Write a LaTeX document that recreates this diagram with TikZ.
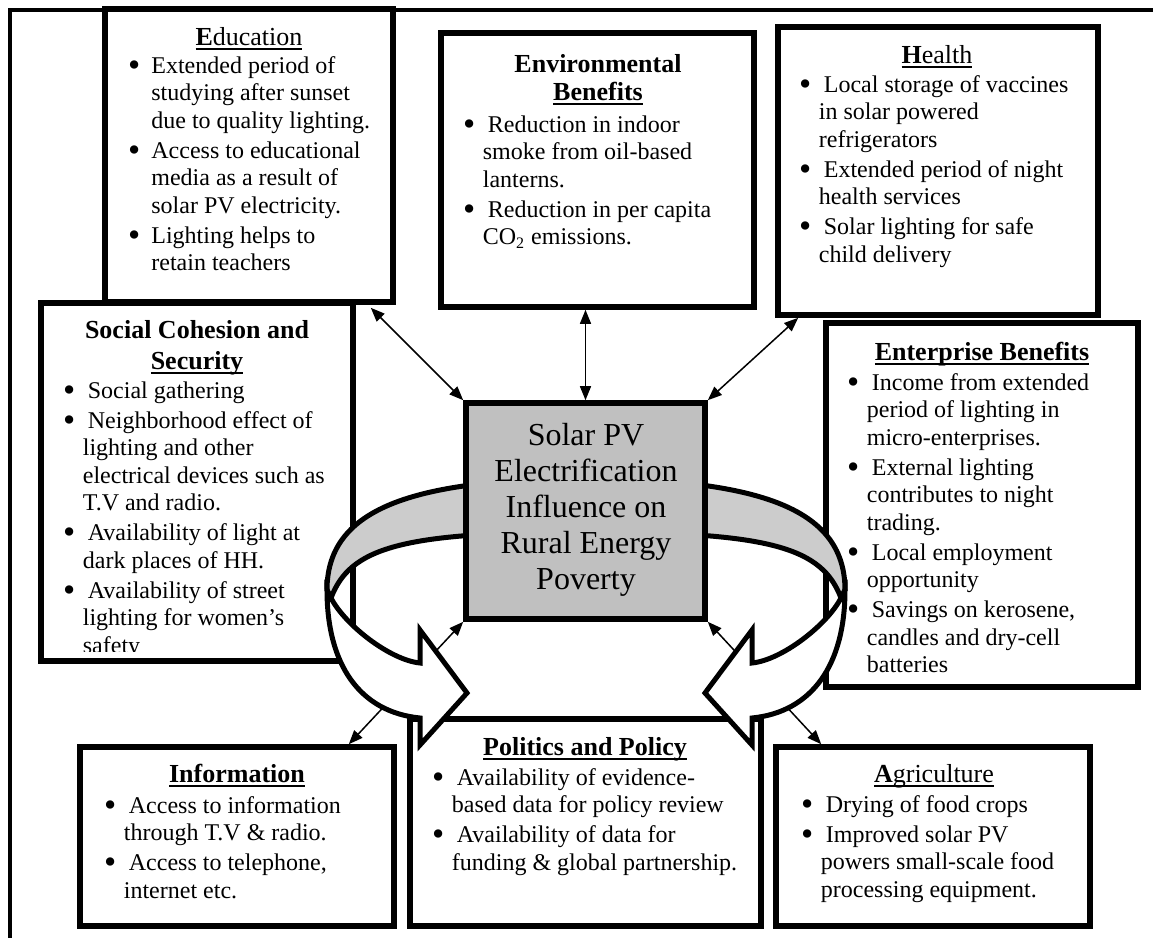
\documentclass[tikz,border=0pt]{standalone}
\usepackage{fontspec}
\usepackage{graphicx}
\setmainfont{Liberation Serif}
\usetikzlibrary{fit,arrows.meta}
\definecolor{coregray}{RGB}{192,192,192}
\definecolor{bandgray}{RGB}{204,204,204}
\newlength{\hg}\newlength{\fx}
\setlength{\hg}{9.25pt}\setlength{\fx}{2.5pt}
\newcommand{\wul}[1]{\leavevmode\setbox0\hbox{#1}\rlap{\rule[-2.4pt]{\wd0}{0.9pt}}\box0}
\newcommand{\bdot}{\raisebox{-1.6pt}[0pt][0pt]{\scalebox{1.45}{\textbullet}}}
\newcommand{\bit}[1]{\hangindent=\hg\hangafter=1\noindent\makebox[\hg][l]{\hspace{-0.6pt}\bdot}\hspace{\fx}#1\par\vskip1.25pt}
\newcommand{\blist}[1]{\parbox[t]{300pt}{\fontsize{12}{13.75}\selectfont\setlength{\parindent}{0pt}\setlength{\parskip}{0pt}#1}}
\newcommand{\ttl}{\fontsize{13}{15}\selectfont}
\begin{document}
\begin{tikzpicture}[x=0.5pt,y=-0.5pt,
  box/.style={draw, line width=2.8pt, fill=white, inner sep=0pt},
  conn/.style={line width=0.75pt, >={Triangle[length=7pt,width=5.5pt]}, <->},
  band/.style={draw, line width=2.5pt, line join=miter},
  ttlnode/.style={anchor=base, inner sep=0pt},
  lstnode/.style={anchor=base west, inner sep=0pt}]
\useasboundingbox (0,0) rectangle (1153,938);
% outer frame
\draw[line width=2pt] (9.5,938) -- (9.5,9.5) -- (1153,9.5);

% Education
\node[box, fit={(105,9) (393,302)}] (edu) {};
\node[ttlnode] (edut) at (249,45) {\ttl\wul{\textbf{E}ducation}};
\node[lstnode] (edul) at (129,73) {\setlength{\hg}{11pt}\setlength{\fx}{0pt}\blist{%
\bit{Extended period of\newline studying after sunset\newline due to quality lighting.}%
\bit{Access to educational\newline media as a result of\newline solar PV electricity.}%
\bit{Lighting helps to\newline retain teachers}}};

% Environmental
\node[box, fit={(441,33) (754,307)}] (env) {};
\node[ttlnode] (envt) at (598,72) {\parbox[t]{160pt}{\centering\fontsize{13}{14}\selectfont\textbf{Environmental}\\\wul{\textbf{Benefits}}}};
\node[lstnode] (envl) at (464,132) {\blist{%
\bit{Reduction in indoor\newline smoke from oil-based\newline lanterns.}%
\bit{Reduction in per capita\newline CO\textsubscript{2} emissions.}}};

% Health
\node[box, fit={(778,27) (1098,315)}] (hea) {};
\node[ttlnode] (heat) at (937,63) {\ttl\wul{\textbf{H}ealth}};
\node[lstnode] (heal) at (800,92) {\blist{%
\bit{Local storage of vaccines\newline in solar powered\newline refrigerators}%
\bit{Extended period of night\newline health services}%
\bit{Solar lighting for safe\newline child delivery}}};

% Social cohesion
\node[box, fit={(41,303) (353,661)}] (soc) {};
\node[ttlnode] (soct) at (197,338) {\parbox[t]{170pt}{\centering\fontsize{13}{15.5}\selectfont\textbf{Social Cohesion and}\\\wul{\textbf{Security}}}};
\begin{scope}
\clip (41,303) rectangle (353,651);
\node[lstnode] (socl) at (64,398) {\blist{%
\bit{Social gathering}%
\bit{Neighborhood effect of\newline lighting and other\newline electrical devices such as\newline T.V and radio.}%
\bit{Availability of light at\newline dark places of HH.}%
\bit{Availability of street\newline lighting for women’s\newline safety}}};
\end{scope}

% Enterprise
\node[box, fit={(826,323) (1138,687)}] (ent) {};
\node[ttlnode] (entt) at (982,360) {\ttl\wul{\textbf{Enterprise Benefits}}};
\node[lstnode] (entl) at (848,390) {\blist{%
\bit{Income from extended\newline period of lighting in\newline micro-enterprises.}%
\bit{External lighting\newline contributes to night\newline trading.}%
\bit{Local employment\newline opportunity}%
\bit{Savings on kerosene,\newline candles and dry-cell\newline batteries}}};

% Information
\node[box, fit={(80,747) (394,926)}] (inf) {};
\node[ttlnode] (inft) at (237,782) {\ttl\wul{\textbf{Information}}};
\node[lstnode] (infl) at (105,813) {\blist{%
\bit{Access to information\newline through T.V \& radio.}%
\bit{Access to telephone,\newline internet etc.}}};

% Politics
\node[box, fit={(410,719) (761,926)}] (pol) {};
\node[ttlnode] (polt) at (585,755) {\ttl\wul{\textbf{Politics and Policy}}};
\node[lstnode] (poll) at (433,785) {\blist{%
\bit{Availability of evidence-\newline based data for policy review}%
\bit{Availability of data for\newline funding \& global partnership.}}};

% Agriculture
\node[box, fit={(776,747) (1090,926)}] (agr) {};
\node[ttlnode] (agrt) at (934,782) {\ttl\wul{\textbf{A}griculture}};
\node[lstnode] (agrl) at (802,812) {\blist{%
\bit{Drying of food crops}%
\bit{Improved solar PV\newline powers small-scale food\newline processing equipment.}}};

% back band (grey)
\path[band, fill=bandgray] (327,590) .. controls (327,505) and (420,480) .. (586,478)
  .. controls (752,480) and (845,505) .. (845,590) -- (841,598)
  .. controls (822,548) and (772,532) .. (586,532)
  .. controls (400,532) and (350,548) .. (331,598) -- cycle;

% core box
\node[box, fill=coregray, fit={(466,403) (705,619)}] (core) {};
\node[ttlnode] (coret) at (586,445) {\parbox[t]{140pt}{\centering\fontsize{16}{18}\selectfont Solar PV\\Electrification\\Influence on\\Rural Energy\\Poverty}};

% connectors
\draw[conn] ([shift={(-25,3)}]edu.south east) -- (core.north west);
\draw[conn] (core.north |- env.south) -- (core.north);
\draw[conn] ([shift={(23,0)}]hea.south west) -- (core.north east);
\draw[conn] ([shift={(-48,0)}]inf.north east) -- (core.south west);
\draw[conn] ([shift={(48,0)}]agr.north west) -- (core.south east);

% front bands with arrow heads
\path[band, fill=white] (327,590) .. controls (327,665) and (360,712) .. (420,718)
  -- (420,745) -- (467,693) -- (420,630) -- (420,663)
  .. controls (390,660) and (345,625) .. (331,598) -- cycle;
\path[band, fill=white] (845,590) .. controls (845,665) and (812,712) .. (752,718)
  -- (752,745) -- (705,693) -- (752,630) -- (752,663)
  .. controls (782,660) and (827,625) .. (841,598) -- cycle;
\end{tikzpicture}
\end{document}
